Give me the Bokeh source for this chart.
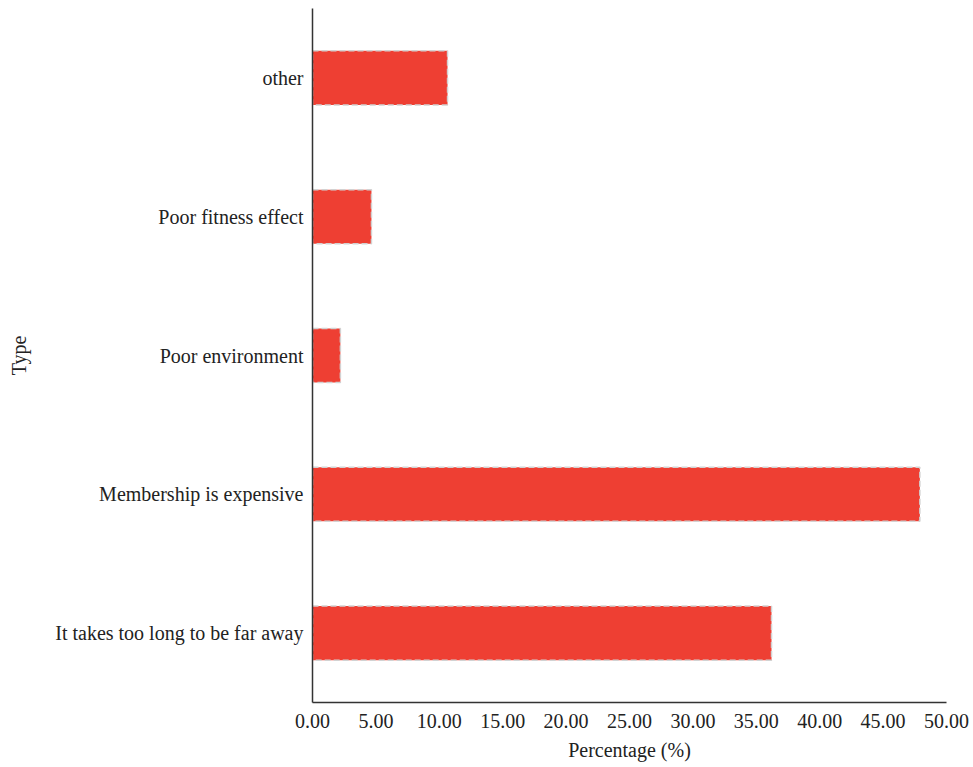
from bokeh.plotting import figure
from bokeh.models import ColumnDataSource, FixedTicker, Range1d, NumeralTickFormatter
from bokeh.embed import file_html
from bokeh.resources import INLINE

categories = ["It takes too long to be far away", "Membership is expensive",
              "Poor environment", "Poor fitness effect", "other"]
values = [36.2, 47.9, 2.2, 4.65, 10.65]
x_ticks = [0, 5, 10, 15, 20, 25, 30, 35, 40, 45, 50]

FONT = "Liberation Serif"

src = ColumnDataSource(dict(cat=categories, val=values))

p = figure(y_range=categories, x_range=Range1d(0, 50),
           frame_width=634, frame_height=694,
           min_border_left=312, min_border_top=8, min_border_right=25, min_border_bottom=56,
           output_backend="svg", toolbar_location=None)
p.y_range.range_padding = 0

p.hbar(y="cat", right="val", left=0, height=0.39, source=src,
       fill_color="#EE3F33", line_color="#D2D2D2", line_dash="6 3", line_width=1.5)

p.xgrid.visible = False
p.ygrid.visible = False
p.outline_line_color = None

for ax in (p.xaxis[0], p.yaxis[0]):
    ax.major_tick_line_color = None
    ax.minor_tick_line_color = None
    ax.axis_line_color = "#333333"
    ax.axis_line_width = 1.5
    ax.major_label_text_font = FONT
    ax.major_label_text_font_size = "20px"
    ax.major_label_text_color = "#222222"
    ax.axis_label_text_font = FONT
    ax.axis_label_text_font_size = "20px"
    ax.axis_label_text_font_style = "normal"
    ax.axis_label_text_color = "#222222"

p.xaxis.ticker = FixedTicker(ticks=x_ticks)
p.xaxis.formatter = NumeralTickFormatter(format="0.00")
p.xaxis.major_label_standoff = 5
p.xaxis.axis_label = "Percentage (%)"
p.xaxis.axis_label_standoff = 8
p.yaxis.axis_label = "Type"
p.yaxis.major_label_standoff = 3
p.yaxis.axis_label_standoff = 22

open("out.html", "w").write(file_html(p, INLINE))
